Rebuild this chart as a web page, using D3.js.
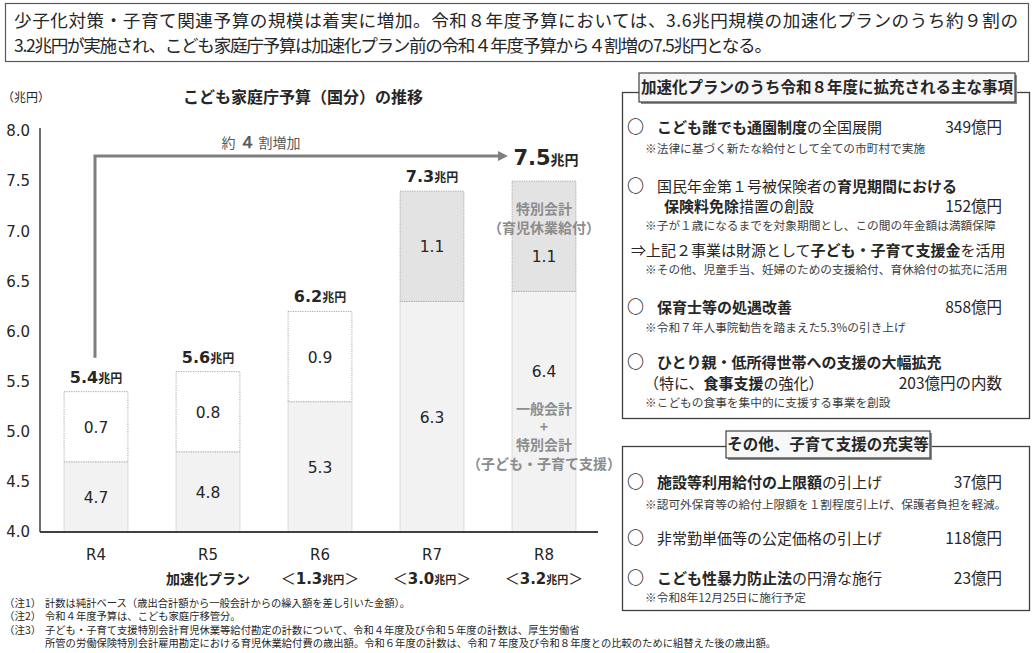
<!DOCTYPE html>
<html><head><meta charset="utf-8">
<script src="https://cdn.jsdelivr.net/npm/d3@7"></script>
<style>
body{margin:0;background:#fff}
svg{display:block}
text{font-family:"Noto Sans CJK JP","Noto Sans",sans-serif;fill:#262626}
.num{font-family:"DejaVu Sans","Noto Sans",sans-serif}
</style>
</head><body><svg id="c" width="1035" height="653"></svg>
<script>
// ---------- data ----------
const years = ["R4","R5","R6","R7","R8"];
const baseValues = [4.7,4.8,5.3,6.3,6.4];
const topValues = [0.7,0.8,0.9,1.1,1.1];
const topKinds = ["一般会計等","一般会計等","一般会計等","特別会計","特別会計"];
const totalLabels = ["5.4","5.6","6.2","7.3","7.5"];
const planLabels = ["","加速化プラン","1.3","3.0","3.2"];
const yTicks = [4.0,4.5,5.0,5.5,6.0,6.5,7.0,7.5,8.0];

const headlineLines = [
  "少子化対策・子育て関連予算の規模は着実に増加。令和８年度予算においては、3.6兆円規模の加速化プランのうち約９割の",
  "3.2兆円が実施され、こども家庭庁予算は加速化プラン前の令和４年度予算から４割増の7.5兆円となる。"
];
const chartTitle = "こども家庭庁予算（国分）の推移";
const unitLabel = "（兆円）";
const increaseLabel = [["約",0],["４",1],["割増加",0]];
const r8SpecialNote = ["特別会計","（育児休業給付）"];
const r8GeneralNote = ["一般会計","+","特別会計","（子ども・子育て支援）"];

const box1Title = "加速化プランのうち令和８年度に拡充される主な事項";
const box1Rows = [
  {t:"item", parts:[["こども誰でも通園制度",1],["の全国展開",0]], amt:"349億円"},
  {t:"note", text:"※法律に基づく新たな給付として全ての市町村で実施"},
  {t:"item", parts:[["国民年金第１号被保険者の",0],["育児期間における",1]]},
  {t:"cont", parts:[["保険料免除",1],["措置の創設",0]], amt:"152億円"},
  {t:"note", text:"※子が１歳になるまでを対象期間とし、この間の年金額は満額保障"},
  {t:"arrow", parts:[["⇒上記２事業は財源として",0],["子ども・子育て支援金",1],["を活用",0]]},
  {t:"note", text:"※その他、児童手当、妊婦のための支援給付、育休給付の拡充に活用"},
  {t:"item", parts:[["保育士等の処遇改善",1]], amt:"858億円"},
  {t:"note", text:"※令和７年人事院勧告を踏まえた5.3%の引き上げ"},
  {t:"item", parts:[["ひとり親・低所得世帯への支援の大幅拡充",1]]},
  {t:"cont2", parts:[["（特に、",0],["食事支援",1],["の強化）",0]], amt:"203億円の内数"},
  {t:"note", text:"※こどもの食事を集中的に支援する事業を創設"}
];
const box1RowY = [127,149,186,206,226,250,270,307,328,362,383,403];

const box2Title = "その他、子育て支援の充実等";
const box2Rows = [
  {t:"item", parts:[["施設等利用給付の上限額",1],["の引上げ",0]], amt:"37億円"},
  {t:"note", text:"※認可外保育等の給付上限額を１割程度引上げ、保護者負担を軽減。"},
  {t:"item", parts:[["非常勤単価等の公定価格の引上げ",0]], amt:"118億円"},
  {t:"item", parts:[["こども性暴力防止法",1],["の円滑な施行",0]], amt:"23億円"},
  {t:"note", text:"※令和8年12月25日に施行予定"}
];
const box2RowY = [482,505,538,578,598];

const footnotes = [
  ["（注1）","計数は純計ベース（歳出合計額から一般会計からの繰入額を差し引いた金額）。"],
  ["（注2）","令和４年度予算は、こども家庭庁移管分。"],
  ["（注3）","子ども・子育て支援特別会計育児休業等給付勘定の計数について、令和４年度及び令和５年度の計数は、厚生労働省"],
  ["","所管の労働保険特別会計雇用勘定における育児休業給付費の歳出額。令和６年度の計数は、令和７年度及び令和８年度との比較のために組替えた後の歳出額。"]
];

// ---------- drawing ----------
const svg = d3.select("#c");
svg.append("rect").attr("width",1035).attr("height",653).attr("fill","#fff");

function rich(sel, parts, size){
  parts.forEach(([s,b])=>{
    sel.append("tspan").text(s).attr("font-weight", b?700:400).attr("font-size", size);
  });
  return sel;
}

// headline box
svg.append("rect").attr("x",5.5).attr("y",3.5).attr("width",1023).attr("height",58)
  .attr("fill","#fff").attr("stroke","#595959").attr("stroke-width",1.2);
const hlLen = [1004, 758];
headlineLines.forEach((l,i)=>{
  svg.append("text").attr("x",14).attr("y",27 + i*25).attr("font-size",17.6)
    .attr("textLength",hlLen[i]).attr("lengthAdjust","spacing").text(l);
});

// chart title & unit
svg.append("text").attr("x",303).attr("y",103).attr("text-anchor","middle")
  .attr("font-size",16).attr("font-weight",700).text(chartTitle);
svg.append("text").attr("x",2).attr("y",102).attr("font-size",12).attr("fill","#404040").text(unitLabel);

// scales
const y = d3.scaleLinear().domain([4,8]).range([532,131]);
const x = d3.scaleBand().domain(years).range([40,600]).paddingInner(0.43).paddingOuter(0.215);
const cx = d => x(d) + x.bandwidth()/2;

// y axis
const yAxis = svg.append("g").attr("transform","translate(40,0)")
  .call(d3.axisLeft(y).tickValues(yTicks).tickSize(0).tickPadding(10).tickFormat(d3.format(".1f")));
yAxis.select(".domain").attr("stroke","#404040").attr("stroke-width",1.5).attr("d","M0,128V532");
yAxis.selectAll("text").attr("class","num").attr("font-size",15).style("fill","#262626");

// bars
const bars = svg.append("g");
years.forEach((yr,i)=>{
  const b = baseValues[i], t = topValues[i];
  bars.append("rect").attr("x",x(yr)).attr("width",x.bandwidth())
    .attr("y",y(b)).attr("height",y(4)-y(b))
    .attr("fill","#f2f2f2").attr("stroke","#d9d9d9").attr("stroke-width",1);
  const special = topKinds[i] === "特別会計";
  bars.append("rect").attr("x",x(yr)).attr("width",x.bandwidth())
    .attr("y",y(b+t)).attr("height",y(b)-y(b+t))
    .attr("fill", special ? "#e3e3e3" : "#ffffff")
    .attr("stroke","#a6a6a6").attr("stroke-width",1).attr("stroke-dasharray","1.2,1.2");
});

// x axis
const xAxis = svg.append("g").attr("transform","translate(0,532)")
  .call(d3.axisBottom(x).tickSize(0).tickPadding(17).tickSizeOuter(0));
xAxis.select(".domain").attr("stroke","#404040").attr("stroke-width",2).attr("d","M40,0H598");
xAxis.selectAll("text").attr("class","num").attr("font-size",15).style("fill","#262626");

// plan labels
years.forEach((yr,i)=>{
  const lab = planLabels[i];
  if(!lab) return;
  const t = svg.append("text").attr("x",cx(yr)).attr("y",584).attr("text-anchor","middle");
  if(i===1){
    t.attr("font-size",14).attr("font-weight",700).text(lab);
  } else {
    t.append("tspan").text("＜").attr("font-size",15);
    t.append("tspan").text(lab).attr("class","num").attr("font-weight",700).attr("font-size",15);
    t.append("tspan").text("兆円").attr("font-weight",700).attr("font-size",11);
    t.append("tspan").text("＞").attr("font-size",15);
  }
});

// value labels inside segments
years.forEach((yr,i)=>{
  const b = baseValues[i], t = topValues[i];
  const last = i === years.length-1;
  const baseLabY = last ? y(b) + 86 : (y(b)+y(4))/2 + 6;
  const topLabY = last ? y(b+t) + 81 : (y(b+t)+y(b))/2 + 6;
  svg.append("text").attr("class","num").attr("x",cx(yr)).attr("y",baseLabY)
    .attr("text-anchor","middle").attr("font-size",15.5).text(d3.format(".1f")(b));
  svg.append("text").attr("class","num").attr("x",cx(yr)).attr("y",topLabY)
    .attr("text-anchor","middle").attr("font-size",15.5).text(d3.format(".1f")(t));
});

// totals
years.forEach((yr,i)=>{
  const last = i === years.length-1;
  const tot = baseValues[i]+topValues[i];
  const t = svg.append("text").attr("x",cx(yr)+ (last?2:0)).attr("y", last ? y(tot)-16 : y(tot)-9)
    .attr("text-anchor","middle");
  t.append("tspan").attr("class","num").attr("font-weight",700).attr("font-size", last?21:16).text(totalLabels[i]);
  t.append("tspan").attr("font-weight",700).attr("font-size", last?14:12).text("兆円");
});

// R8 notes
{
  const i = years.length-1, yr = years[i];
  const top = y(baseValues[i]+topValues[i]), mid = y(baseValues[i]);
  r8SpecialNote.forEach((s,k)=>{
    svg.append("text").attr("x",cx(yr)).attr("y",top+33+k*19).attr("text-anchor","middle")
      .attr("font-size",14).attr("font-weight",700).style("fill","#8c8c8c").text(s);
  });
  const offs = [123,141,159,178];
  r8GeneralNote.forEach((s,k)=>{
    svg.append("text").attr("x",cx(yr)).attr("y",mid+offs[k]).attr("text-anchor","middle")
      .attr("font-size",14).attr("font-weight",700).style("fill","#8c8c8c").text(s);
  });
}

// increase arrow
svg.append("defs").append("marker").attr("id","ah").attr("viewBox","0 0 10 10")
  .attr("refX",2).attr("refY",5).attr("markerWidth",3.3).attr("markerHeight",3.3).attr("orient","auto")
  .append("path").attr("d","M0,0L10,5L0,10Z").attr("fill","#7f7f7f");
const ay = y(7.75);
svg.append("path")
  .attr("d",`M${cx(years[0])-1},${y(5.4)-34}V${ay}H${cx(years[4])-44}`)
  .attr("fill","none").attr("stroke","#7f7f7f").attr("stroke-width",3).attr("marker-end","url(#ah)");
{
  const t = svg.append("text").attr("x",261).attr("y",148).attr("text-anchor","middle").style("fill","#595959");
  increaseLabel.forEach(([s,b])=>{
    t.append("tspan").text(s).attr("font-size", b?17:14).attr("font-weight", b?700:400).attr("class", b?"num":null)
      .attr("dx", b?3:(s==="約"?0:3));
  });
}

// right boxes
function drawBox(title, titleBox, frame, rows, rowY){
  svg.append("rect").attr("x",frame[0]+0.5).attr("y",frame[1]+0.5).attr("width",frame[2]).attr("height",frame[3])
    .attr("fill","#fff").attr("stroke","#404040").attr("stroke-width",1.3);
  svg.append("rect").attr("x",titleBox[0]+2).attr("y",titleBox[1]+2).attr("width",titleBox[2]).attr("height",titleBox[3])
    .attr("fill","#8c8c8c");
  svg.append("rect").attr("x",titleBox[0]).attr("y",titleBox[1]).attr("width",titleBox[2]).attr("height",titleBox[3])
    .attr("fill","#f7f7f7").attr("stroke","#404040").attr("stroke-width",1.2);
  svg.append("text").attr("x",titleBox[0]+titleBox[2]/2).attr("y",titleBox[1]+titleBox[3]/2+5.5)
    .attr("text-anchor","middle").attr("font-size",15.5).attr("font-weight",700).text(title);
  rows.forEach((r,k)=>{
    const yy = rowY[k];
    if(r.t==="note"){
      svg.append("text").attr("x",645).attr("y",yy+4).attr("font-size",11.7).style("fill","#404040").text(r.text);
      return;
    }
    if(r.t==="item"){
      svg.append("text").attr("x",627).attr("y",yy+6).attr("font-size",17).attr("font-weight",700).text("○");
      rich(svg.append("text").attr("x",657).attr("y",yy+5.5), r.parts, 15);
    } else if(r.t==="cont"){
      rich(svg.append("text").attr("x",664).attr("y",yy+5.5), r.parts, 15);
    } else if(r.t==="cont2"){
      rich(svg.append("text").attr("x",644).attr("y",yy+5.5), r.parts, 15);
    } else if(r.t==="arrow"){
      rich(svg.append("text").attr("x",631).attr("y",yy+5.5), r.parts, 15);
    }
    if(r.amt){
      svg.append("text").attr("x",1002).attr("y",yy+5.5).attr("text-anchor","end").attr("font-size",15.5).text(r.amt);
    }
  });
}
drawBox(box1Title,[639,73,376,29],[622,92,407,326],box1Rows,box1RowY);
drawBox(box2Title,[726,431,204,27],[622,446,407,164],box2Rows,box2RowY);

// footnotes
const fnY = [607,620,634,647];
footnotes.forEach(([lab,body],k)=>{
  if(lab) svg.append("text").attr("x",4).attr("y",fnY[k]).attr("font-size",10.5).text(lab);
  svg.append("text").attr("x",45).attr("y",fnY[k]).attr("font-size",10.3).text(body);
});
</script>
</body></html>
